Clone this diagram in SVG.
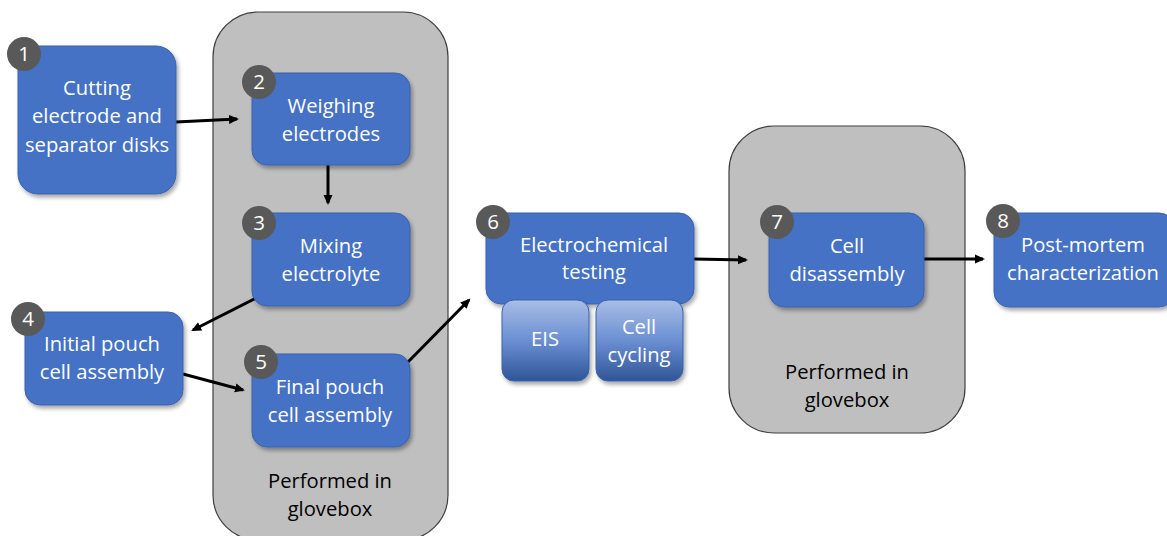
<svg xmlns="http://www.w3.org/2000/svg" width="1167" height="536" viewBox="0 0 1167 536">
<defs>
<filter id="sh" x="-10%" y="-10%" width="130%" height="130%">
<feGaussianBlur in="SourceAlpha" stdDeviation="2"/>
<feOffset dx="2" dy="3"/>
<feComponentTransfer><feFuncA type="linear" slope="0.35"/></feComponentTransfer>
<feMerge><feMergeNode/><feMergeNode in="SourceGraphic"/></feMerge>
</filter>
<linearGradient id="sub" x1="0" y1="0" x2="0" y2="1">
<stop offset="0" stop-color="#a9bde6"/>
<stop offset="0.5" stop-color="#6b8fd2"/>
<stop offset="1" stop-color="#2f5597"/>
</linearGradient>
<marker id="ah" markerWidth="12" markerHeight="12" refX="8" refY="6" orient="auto" markerUnits="userSpaceOnUse">
<path d="M0,1.5 L10,6 L0,10.5 Z" fill="#000"/>
</marker>
<style>
.box{fill:#bfbfbf;stroke:#404040;stroke-width:1.2}
.node{fill:#4472c4;stroke:#3a63ad;stroke-width:1;filter:url(#sh)}
.sub{fill:url(#sub);stroke:#3a63ad;stroke-width:1;filter:url(#sh)}
.badge{fill:#595959}
.t{font-family:"Open Sans",Lato,sans-serif;font-size:20.2px;fill:#fff;text-anchor:middle}
.n{font-family:"Open Sans",Lato,sans-serif;font-size:20.5px;fill:#fff;text-anchor:middle}
.g{font-family:"Open Sans",Lato,sans-serif;font-size:20.2px;fill:#000;text-anchor:middle}
.c{stroke:#000;stroke-width:3;fill:none;marker-end:url(#ah)}
</style>
</defs>
<g id="glovebox1">
<rect class="box" x="213" y="12" width="235" height="528" rx="45"/>
<text class="g" x="330" y="488">Performed in</text>
<text class="g" x="330" y="516">glovebox</text>
</g>
<g id="glovebox2">
<rect class="box" x="729" y="126" width="236" height="307" rx="45"/>
<text class="g" x="847" y="379">Performed in</text>
<text class="g" x="847" y="407">glovebox</text>
</g>
<g id="connectors">
<line class="c" x1="176" y1="122" x2="237" y2="119"/>
<line class="c" x1="328" y1="165" x2="328" y2="203"/>
<line class="c" x1="256" y1="298" x2="193" y2="330"/>
<line class="c" x1="183" y1="374" x2="243" y2="390"/>
<line class="c" x1="408" y1="362" x2="469" y2="300"/>
<line class="c" x1="694" y1="259" x2="746" y2="260"/>
<line class="c" x1="924" y1="259" x2="983" y2="259"/>
</g>
<g id="node1">
<rect class="node" x="18" y="46" width="158" height="148" rx="20"/>
<circle class="badge" cx="24" cy="54" r="17"/>
<text class="n" x="24" y="61">1</text>
<text class="t" x="97" y="95">Cutting</text>
<text class="t" x="97" y="123">electrode and</text>
<text class="t" x="97" y="152">separator disks</text>
</g>
<g id="node2">
<rect class="node" x="252" y="73" width="158" height="92" rx="15"/>
<circle class="badge" cx="259" cy="82" r="17"/>
<text class="n" x="259" y="89">2</text>
<text class="t" x="331" y="113">Weighing</text>
<text class="t" x="331" y="141">electrodes</text>
</g>
<g id="node3">
<rect class="node" x="252" y="213" width="158" height="93" rx="15"/>
<circle class="badge" cx="259" cy="223" r="17"/>
<text class="n" x="259" y="230">3</text>
<text class="t" x="331" y="253">Mixing</text>
<text class="t" x="331" y="281">electrolyte</text>
</g>
<g id="node4">
<rect class="node" x="25" y="312" width="158" height="93" rx="15"/>
<circle class="badge" cx="28" cy="319" r="17"/>
<text class="n" x="28" y="326">4</text>
<text class="t" x="102" y="351">Initial pouch</text>
<text class="t" x="102" y="379">cell assembly</text>
</g>
<g id="node5">
<rect class="node" x="252" y="354" width="158" height="93" rx="15"/>
<circle class="badge" cx="261" cy="362" r="17"/>
<text class="n" x="261" y="369">5</text>
<text class="t" x="330" y="394">Final pouch</text>
<text class="t" x="330" y="422">cell assembly</text>
</g>
<g id="node6">
<rect class="node" x="486" y="213" width="208" height="91" rx="15"/>
<circle class="badge" cx="493" cy="222" r="17"/>
<text class="n" x="493" y="229">6</text>
<text class="t" x="594" y="252">Electrochemical</text>
<text class="t" x="594" y="279">testing</text>
</g>
<g id="eis">
<rect class="sub" x="502" y="300" width="87" height="81" rx="12"/>
<text class="t" x="545" y="346">EIS</text>
</g>
<g id="cycling">
<rect class="sub" x="596" y="300" width="87" height="81" rx="12"/>
<text class="t" x="639" y="334">Cell</text>
<text class="t" x="639" y="362">cycling</text>
</g>
<g id="node7">
<rect class="node" x="769" y="213" width="155" height="94" rx="15"/>
<circle class="badge" cx="777" cy="222" r="17"/>
<text class="n" x="777" y="229">7</text>
<text class="t" x="847" y="253">Cell</text>
<text class="t" x="847" y="281">disassembly</text>
</g>
<g id="node8">
<rect class="node" x="994" y="213" width="180" height="94" rx="15"/>
<circle class="badge" cx="1003" cy="221" r="17"/>
<text class="n" x="1003" y="228">8</text>
<text class="t" x="1083" y="252">Post-mortem</text>
<text class="t" x="1083" y="280">characterization</text>
</g>
</svg>
